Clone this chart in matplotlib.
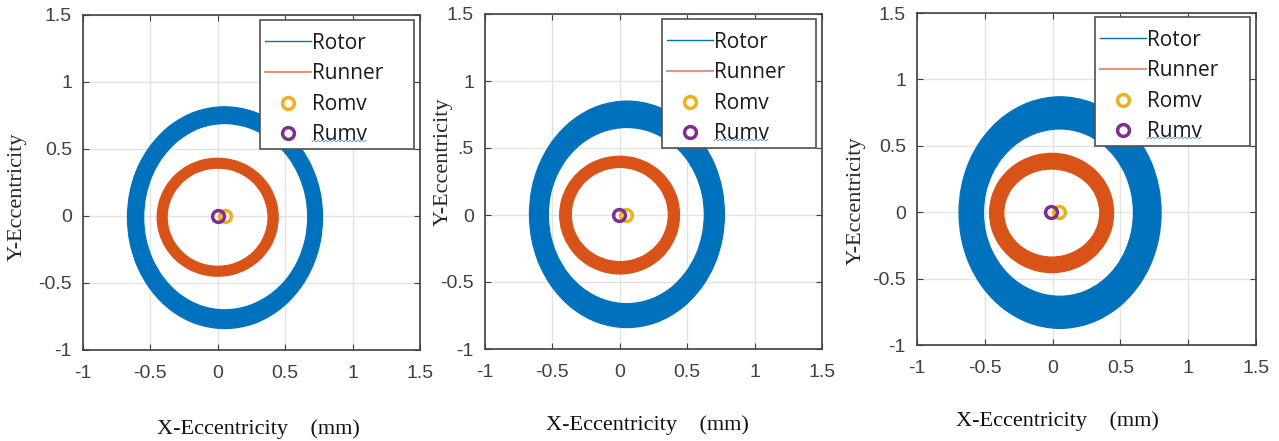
import numpy as np
import matplotlib
matplotlib.use('Agg')
import matplotlib.pyplot as plt
from matplotlib.path import Path
from matplotlib.patches import PathPatch, Rectangle
from matplotlib.lines import Line2D

ang_deg = list(range(0, 360, 15))

# rotor orbit band: centre (mm) and outer / inner edge radius (mm) per angle, one row per case
rotor_c = [(0.05, -0.01), (0.053, 0.005), (0.055, -0.003)]
rotor_out = [
    [0.727, 0.733, 0.748, 0.771, 0.797, 0.817, 0.825, 0.817, 0.795, 0.767, 0.743, 0.726,
     0.720, 0.726, 0.743, 0.769, 0.798, 0.821, 0.830, 0.822, 0.800, 0.773, 0.749, 0.733],
    [0.723, 0.730, 0.749, 0.777, 0.809, 0.835, 0.845, 0.835, 0.809, 0.777, 0.749, 0.730,
     0.723, 0.730, 0.749, 0.777, 0.809, 0.835, 0.845, 0.835, 0.809, 0.777, 0.749, 0.730],
    [0.745, 0.752, 0.772, 0.801, 0.834, 0.861, 0.872, 0.861, 0.834, 0.801, 0.772, 0.752,
     0.745, 0.752, 0.772, 0.801, 0.834, 0.861, 0.872, 0.861, 0.834, 0.801, 0.772, 0.752],
]
rotor_in = [
    [0.617, 0.622, 0.635, 0.655, 0.676, 0.693, 0.700, 0.692, 0.670, 0.644, 0.621, 0.605,
     0.600, 0.605, 0.619, 0.640, 0.664, 0.683, 0.690, 0.684, 0.669, 0.651, 0.633, 0.621],
    [0.574, 0.578, 0.590, 0.608, 0.627, 0.642, 0.648, 0.643, 0.630, 0.613, 0.597, 0.587,
     0.583, 0.588, 0.601, 0.621, 0.643, 0.660, 0.667, 0.659, 0.640, 0.615, 0.594, 0.579],
    [0.541, 0.546, 0.560, 0.581, 0.604, 0.623, 0.630, 0.625, 0.612, 0.595, 0.579, 0.569,
     0.565, 0.569, 0.579, 0.595, 0.612, 0.625, 0.630, 0.623, 0.604, 0.581, 0.560, 0.546],
]

# runner orbit band
runner_c = [(0.0, -0.009), (0.0, 0.0), (-0.005, -0.005)]
runner_out = [
    [0.448, 0.447, 0.446, 0.444, 0.442, 0.440, 0.440, 0.441, 0.443, 0.445, 0.447, 0.449,
     0.450, 0.449, 0.447, 0.445, 0.443, 0.441, 0.440, 0.441, 0.442, 0.444, 0.446, 0.447],
    [0.443, 0.443, 0.442, 0.441, 0.440, 0.439, 0.438, 0.439, 0.441, 0.442, 0.444, 0.445,
     0.446, 0.445, 0.443, 0.442, 0.441, 0.440, 0.440, 0.440, 0.441, 0.442, 0.442, 0.443],
    [0.455, 0.455, 0.454, 0.452, 0.450, 0.449, 0.448, 0.449, 0.451, 0.454, 0.457, 0.459,
     0.460, 0.459, 0.456, 0.453, 0.451, 0.450, 0.450, 0.450, 0.451, 0.452, 0.454, 0.455],
]
runner_in = [
    [0.373, 0.372, 0.371, 0.370, 0.368, 0.367, 0.366, 0.367, 0.369, 0.371, 0.373, 0.375,
     0.376, 0.375, 0.373, 0.371, 0.369, 0.367, 0.366, 0.367, 0.368, 0.370, 0.371, 0.372],
    [0.360, 0.360, 0.359, 0.357, 0.356, 0.355, 0.355, 0.355, 0.356, 0.358, 0.359, 0.360,
     0.360, 0.359, 0.356, 0.353, 0.350, 0.348, 0.348, 0.349, 0.351, 0.354, 0.357, 0.359],
    [0.353, 0.351, 0.347, 0.341, 0.335, 0.331, 0.330, 0.332, 0.337, 0.343, 0.349, 0.353,
     0.355, 0.353, 0.348, 0.342, 0.337, 0.334, 0.333, 0.334, 0.337, 0.342, 0.347, 0.351],
]

# mean values (mm)
romv = [(0.05, 0.0), (0.045, 0.0), (0.045, 0.0)]
rumv = [(0.0, 0.0), (-0.005, 0.0), (-0.01, 0.0)]

labels = ['Rotor', 'Runner', 'Romv', 'Rumv']
ticks = [-1, -0.5, 0, 0.5, 1, 1.5]
tick_txt = ['-1', '-0.5', '0', '0.5', '1', '1.5']
ytick_txt = [tick_txt, ['-1', '-0.5', '0', '.5', '1', '1.5'], tick_txt]

c_rotor = '#0072BD'
c_runner = '#D95319'
c_romv = '#EDB120'
c_rumv = '#7E2F8E'

W, H = 1279, 441
# axes boxes in pixels: left, top, right, bottom
boxes = [(83, 15, 420, 350), (485, 14, 822, 349), (917, 13, 1256, 345)]
ylab_pos = [(17, 197), (443, 162), (856, 201)]
xlab_pos = [(258, 429), (647, 425), (1057, 421)]
leg_box = [(260, 20, 414, 149), (662, 19, 816, 148), (1095, 17, 1250, 146)]
leg_fs = 15


def closed_curve(x, y):
    # smooth closed outline through the edge points (cubic Bezier pieces)
    n = len(x)
    p = np.column_stack([x, y])
    verts = [tuple(p[0])]
    codes = [Path.MOVETO]
    for k in range(n):
        p0, p1, p2, p3 = p[k - 1], p[k], p[(k + 1) % n], p[(k + 2) % n]
        verts += [tuple(p1 + (p2 - p0) / 6), tuple(p2 - (p3 - p1) / 6), tuple(p2)]
        codes += [Path.CURVE4] * 3
    verts.append(tuple(p[0]))
    codes.append(Path.CLOSEPOLY)
    return verts, codes


def band(ax, c, r_out, r_in, color):
    t = np.deg2rad(ang_deg)
    xo = c[0] + np.array(r_out) * np.cos(t)
    yo = c[1] + np.array(r_out) * np.sin(t)
    xi = c[0] + np.array(r_in) * np.cos(t)
    yi = c[1] + np.array(r_in) * np.sin(t)
    v1, c1 = closed_curve(xo, yo)
    v2, c2 = closed_curve(xi[::-1], yi[::-1])
    ax.add_patch(PathPatch(Path(v1 + v2, c1 + c2), facecolor=color, edgecolor=color,
                           linewidth=0.9, zorder=2))


fig = plt.figure(figsize=(W / 100, H / 100), dpi=100)

for i in range(3):
    l, t, r, b = boxes[i]
    ax = fig.add_axes([l / W, 1 - b / H, (r - l) / W, (b - t) / H])
    ax.set_xlim(-1, 1.5)
    ax.set_ylim(-1, 1.5)
    band(ax, rotor_c[i], rotor_out[i], rotor_in[i], c_rotor)
    band(ax, runner_c[i], runner_out[i], runner_in[i], c_runner)
    ax.plot(romv[i][0], romv[i][1], 'o', ms=8.5, mfc='none', mec=c_romv, mew=2.5, zorder=3)
    ax.plot(rumv[i][0], rumv[i][1], 'o', ms=8.5, mfc='none', mec=c_rumv, mew=2.5, zorder=4)

    ax.set_xticks(ticks)
    ax.set_yticks(ticks)
    ax.set_xticklabels(tick_txt)
    ax.set_yticklabels(ytick_txt[i])
    ax.grid(True, color='#e3e3e3', linewidth=1.0, zorder=0)
    ax.set_axisbelow(True)
    ax.tick_params(direction='in', top=True, right=True, length=4, width=0.8, color='#404040',
                   labelsize=14, labelcolor='#404040')
    ax.tick_params(axis='x', pad=11)
    ax.tick_params(axis='y', pad=8)
    for lab in ax.get_xticklabels() + ax.get_yticklabels():
        lab.set_family('Liberation Sans')
    for s in ax.spines.values():
        s.set_color('#404040')
        s.set_linewidth(1.2)

    # legend: white box, then the entries anchored inside it
    lx0, ly0, lx1, ly1 = leg_box[i]
    ax.add_patch(Rectangle((lx0 / W, 1 - ly1 / H), (lx1 - lx0) / W, (ly1 - ly0) / H,
                           transform=fig.transFigure, facecolor='white', edgecolor='#505050',
                           linewidth=1.2, zorder=5, clip_on=False))
    handles = [Line2D([], [], color=c_rotor, lw=1.0),
               Line2D([], [], color='#E8957A', lw=1.5),
               Line2D([], [], ls='none', marker='o', ms=8.5, mfc='none', mec=c_romv, mew=2.5),
               Line2D([], [], ls='none', marker='o', ms=8.5, mfc='none', mec=c_rumv, mew=2.5)]
    leg = ax.legend(handles, labels, loc='upper left',
                    bbox_to_anchor=(lx0 / W, 1 - (ly0 + 7.5) / H), bbox_transform=fig.transFigure,
                    frameon=False, handlelength=2.2, handletextpad=0.05, borderpad=0.25,
                    borderaxespad=0, labelspacing=0.46,
                    prop={'family': 'Open Sans', 'size': leg_fs})
    leg.set_zorder(6)
    for txt in leg.get_texts():
        txt.set_color('#1a1a1a')

    # spell-check squiggle under "Rumv"
    sx = np.arange(lx0 + 52, lx0 + 108, 2.0)
    sy = ly1 - 8 + np.where(np.arange(len(sx)) % 2 == 0, 0.8, -0.8)
    fig.add_artist(Line2D(sx / W, 1 - sy / H, color='#5b8fd6', lw=0.6, zorder=7))

    fig.text(ylab_pos[i][0] / W, 1 - ylab_pos[i][1] / H, 'Y-Eccentricity', rotation=90,
             ha='center', va='center', family='Liberation Serif', fontsize=16, color='#262626')
    fig.text(xlab_pos[i][0] / W, 1 - xlab_pos[i][1] / H, 'X-Eccentricity    (mm)',
             ha='center', va='center', family='Liberation Serif', fontsize=16, color='#111111')

fig.savefig('out.png', dpi=100, facecolor='w')
